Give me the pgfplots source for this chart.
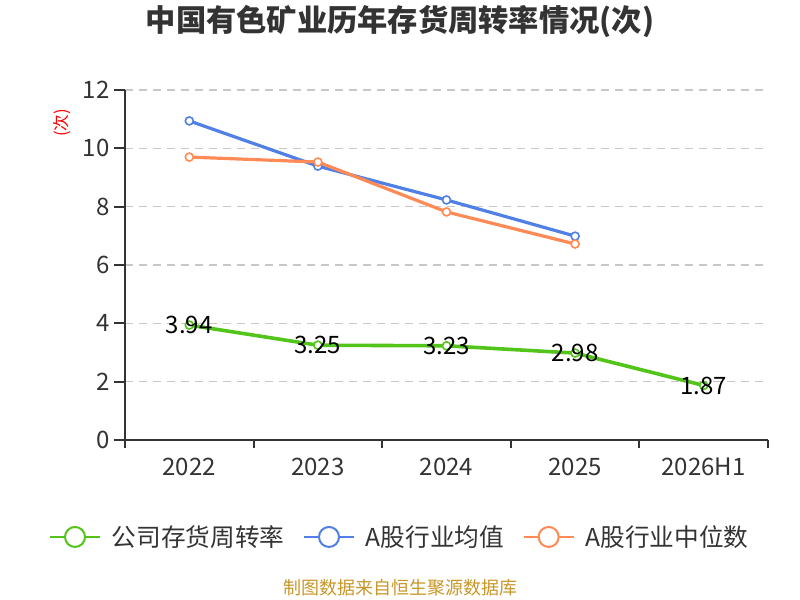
\documentclass[border=0pt]{standalone}
\usepackage{fontspec}
\setmainfont{Noto Sans CJK SC}
\usepackage{pgfplots}
\pgfplotsset{compat=1.18}
\definecolor{cgreen}{RGB}{82,196,26}
\definecolor{cblue}{RGB}{80,128,230}
\definecolor{corange}{RGB}{255,138,86}
\definecolor{ctext}{RGB}{51,51,51}
\definecolor{cgrid}{RGB}{200,200,200}
\definecolor{csrc}{RGB}{200,150,40}
\begin{document}
\begin{tikzpicture}
\useasboundingbox (0,0) rectangle (600pt,450pt);
\begin{axis}[
  at={(93.75pt,120pt)}, anchor=south west,
  scale only axis, width=482.25pt, height=262.5pt,
  xmin=-0.5, xmax=4.5, ymin=0, ymax=12,
  axis lines=left,
  axis line style={-, draw=ctext, line width=1.5pt},
  xtick={0,1,2,3,4},
  xticklabels={2022,2023,2024,2025,2026H1},
  minor xtick={-0.5,0.5,1.5,2.5,3.5,4.5},
  major x tick style={draw=none},
  minor x tick style={draw=ctext, line width=1.5pt},
  ytick={0,2,4,6,8,10,12},
  major y tick style={draw=ctext, line width=1.5pt},
  major tick length=8pt, minor tick length=6pt,
  tick align=outside,
  ymajorgrids,
  major grid style={draw=cgrid, line width=1.1pt, dash pattern=on 6pt off 4.5pt},
  tick label style={font=\fontsize{18}{21}\selectfont, text=ctext},
  /pgf/number format/assume math mode=true,
  xticklabel style={yshift=-2pt},
  legend columns=3,
  legend style={at={(0.4277,-0.277)}, anchor=center, draw=none, fill=none,
    font=\fontsize{18.5}{22}\selectfont, text=ctext,
    /tikz/every odd column/.append style={column sep=6pt},
    /tikz/every even column/.append style={column sep=12pt},
    inner sep=0pt},
  legend image code/.code={
    \draw[#1, mark=none, line width=1.5pt] (0pt,0pt) -- (37.5pt,0pt);
    \draw[#1, mark=none, line width=1.5pt, fill=white] (18.75pt,0pt) circle (7.5pt);
  },
  clip=false,
]
\addplot[cgreen, line width=2.7pt, mark=*, mark size=3pt,
  mark options={fill=white, line width=1.2pt},
  nodes near coords={\pgfmathprintnumber[fixed,fixed zerofill,precision=2]{\pgfplotspointmeta}},
  every node near coord/.append style={anchor=center, text=black, font=\fontsize{18}{21}\selectfont}]
  coordinates {(0,3.94) (1,3.25) (2,3.23) (3,2.98) (4,1.87)};
\addlegendentry{公司存货周转率}
\addplot[cblue, line width=2.4pt, mark=*, mark size=3pt,
  mark options={fill=white, line width=1.2pt}]
  coordinates {(0,10.94) (1,9.39) (2,8.23) (3,6.99)};
\addlegendentry{A股行业均值}
\addplot[corange, line width=2.4pt, mark=*, mark size=3pt,
  mark options={fill=white, line width=1.2pt}]
  coordinates {(0,9.70) (1,9.53) (2,7.82) (3,6.72)};
\addlegendentry{A股行业中位数}
\end{axis}
\node[font=\bfseries\fontsize{22.7}{26}\selectfont, text=ctext] at (300pt,433.5pt) {中国有色矿业历年存货周转率情况(次)};
\node[font=\fontsize{12.5}{14}\selectfont, text=red, rotate=90] at (46.5pt,357.75pt) {(次)};
\node[font=\fontsize{13.5}{16}\selectfont, text=csrc] at (300pt,9pt) {制图数据来自恒生聚源数据库};
\end{tikzpicture}
\end{document}
